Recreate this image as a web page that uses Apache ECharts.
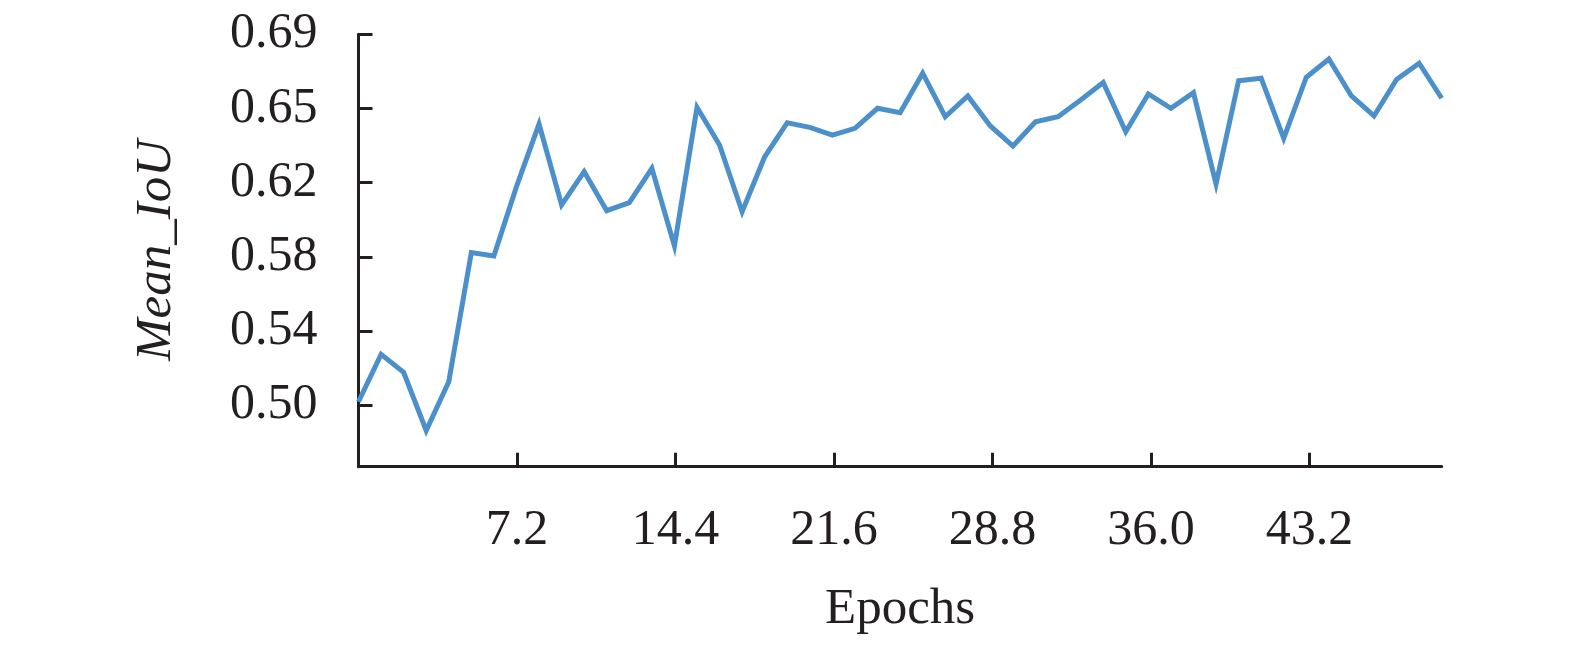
<!DOCTYPE html>
<html>
<head>
<meta charset="utf-8">
<script src="https://cdn.jsdelivr.net/npm/echarts@6/dist/echarts.min.js"></script>
<style>html,body{margin:0;padding:0;background:#fff;}#c{width:1575px;height:645px;}</style>
</head>
<body>
<div id="c"></div>
<script>
// Mean IoU per epoch (index 0..48)
const epochs = Array.from({length: 49}, (_, i) => i);
const meanIoU = [
  0.5017, 0.5263, 0.5170, 0.4868, 0.5121, 0.5792, 0.5774, 0.6134, 0.6459, 0.6039,
  0.6212, 0.6009, 0.6051, 0.6229, 0.5826, 0.6546, 0.6350, 0.6004, 0.6289, 0.6466,
  0.6442, 0.6402, 0.6437, 0.6541, 0.6518, 0.6723, 0.6497, 0.6605, 0.6449, 0.6345,
  0.6471, 0.6497, 0.6584, 0.6675, 0.6419, 0.6615, 0.6541, 0.6622, 0.6148, 0.6684,
  0.6697, 0.6385, 0.6702, 0.6797, 0.6605, 0.6501, 0.6691, 0.6775, 0.6593
];
const xTickValues = [7.2, 14.4, 21.6, 28.8, 36.0, 43.2];
const xTickLabels = ['7.2', '14.4', '21.6', '28.8', '36.0', '43.2'];
const yTickValues = [0.5, 0.5385, 0.577, 0.6155, 0.654, 0.6925];
const yTickLabels = ['0.50', '0.54', '0.58', '0.62', '0.65', '0.69'];

const FONT = "'Liberation Serif', 'Times New Roman', Times, serif";
const INK = '#231f20';

function nearestLabel(v, vals, labels) {
  let best = 0;
  for (let i = 1; i < vals.length; i++) {
    if (Math.abs(vals[i] - v) < Math.abs(vals[best] - v)) best = i;
  }
  return labels[best];
}

const chart = echarts.init(document.getElementById('c'), null, {renderer: 'canvas'});
chart.setOption({
  animation: false,
  backgroundColor: '#ffffff',
  grid: {left: 358.5, top: 34.3, right: 133.3, bottom: 178.3, containLabel: false, outerBoundsMode: 'none'},
  xAxis: [
    {
      type: 'value', min: 0, max: 49.2,
      name: 'Epochs', nameLocation: 'middle', nameGap: 117,
      nameTextStyle: {fontFamily: FONT, fontSize: 51, color: INK},
      axisLine: {show: true, lineStyle: {color: INK, width: 3}},
      axisTick: {show: true, inside: true, length: 14, lineStyle: {color: INK, width: 3}, customValues: xTickValues},
      axisLabel: {show: true, fontFamily: FONT, fontSize: 50, color: INK, margin: 39,
        customValues: xTickValues,
        formatter: v => nearestLabel(v, xTickValues, xTickLabels)},
      splitLine: {show: false}
    },
    {
      type: 'value', min: 0, max: 48, position: 'bottom', show: false
    }
  ],
  yAxis: {
    type: 'value', min: 0.468, max: 0.6925,
    name: 'Mean_IoU', nameLocation: 'middle', nameGap: 176,
    nameTextStyle: {fontFamily: FONT, fontSize: 51, fontStyle: 'italic', color: INK},
    axisLine: {show: true, lineStyle: {color: INK, width: 3}},
    axisTick: {show: true, inside: true, length: 14, lineStyle: {color: INK, width: 3}, customValues: yTickValues},
    axisLabel: {show: true, fontFamily: FONT, fontSize: 50, color: INK, margin: 41,
      customValues: yTickValues,
      formatter: v => nearestLabel(v, yTickValues, yTickLabels)},
    splitLine: {show: false}
  },
  series: [{
    type: 'line',
    xAxisIndex: 1,
    data: epochs.map((e, i) => [e, meanIoU[i]]),
    showSymbol: false,
    symbol: 'none',
    lineStyle: {color: '#4b8fcb', width: 5, join: 'miter'},
    clip: false
  }]
});
</script>
</body>
</html>
